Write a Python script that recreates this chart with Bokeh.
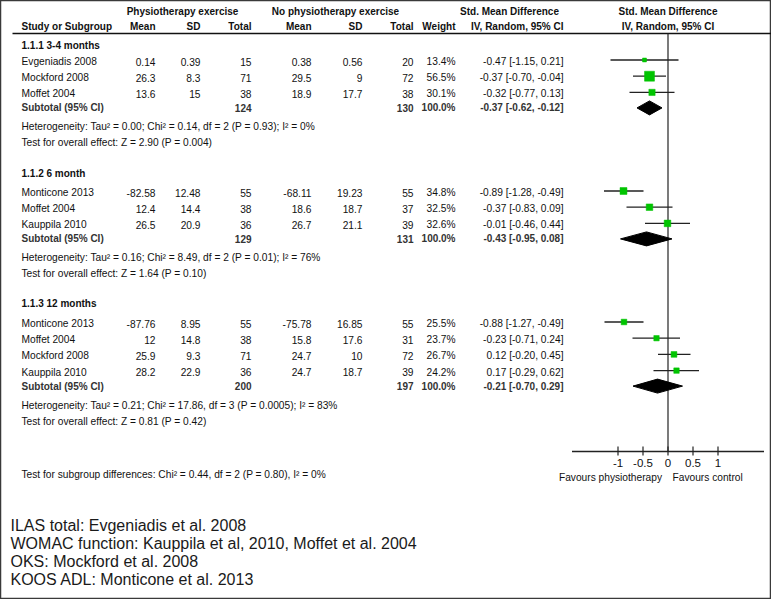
from bokeh.plotting import figure
from bokeh.models import Range1d, ColumnDataSource
from bokeh.core.properties import value
from bokeh.embed import file_html
from bokeh.resources import INLINE

# ---------------- data ----------------
group_labels = ["1.1.1 3-4 months", "1.1.2 6 month", "1.1.3 12 months"]
study_names = [["Evgeniadis 2008", "Mockford 2008", "Moffet 2004"],
               ["Monticone 2013", "Moffet 2004", "Kauppila 2010"],
               ["Monticone 2013", "Moffet 2004", "Mockford 2008", "Kauppila 2010"]]
mean_exp = [[0.14, 26.3, 13.6], [-82.58, 12.4, 26.5], [-87.76, 12, 25.9, 28.2]]
sd_exp = [[0.39, 8.3, 15], [12.48, 14.4, 20.9], [8.95, 14.8, 9.3, 22.9]]
n_exp = [[15, 71, 38], [55, 38, 36], [55, 38, 71, 36]]
mean_ctl = [[0.38, 29.5, 18.9], [-68.11, 18.6, 26.7], [-75.78, 15.8, 24.7, 24.7]]
sd_ctl = [[0.56, 9, 17.7], [19.23, 18.7, 21.1], [16.85, 17.6, 10, 18.7]]
n_ctl = [[20, 72, 38], [55, 37, 39], [55, 31, 72, 39]]
weight = [[13.4, 56.5, 30.1], [34.8, 32.5, 32.6], [25.5, 23.7, 26.7, 24.2]]
smd = [[-0.47, -0.37, -0.32], [-0.89, -0.37, -0.01], [-0.88, -0.23, 0.12, 0.17]]
ci_low = [[-1.15, -0.70, -0.77], [-1.28, -0.83, -0.46], [-1.27, -0.71, -0.20, -0.29]]
ci_high = [[0.21, -0.04, 0.13], [-0.49, 0.09, 0.44], [-0.49, 0.24, 0.45, 0.62]]
sub_n_exp = [124, 129, 200]
sub_n_ctl = [130, 131, 197]
sub_weight = [100.0, 100.0, 100.0]
sub_smd = [-0.37, -0.43, -0.21]
sub_low = [-0.62, -0.95, -0.70]
sub_high = [-0.12, 0.08, 0.29]
heterogeneity = ["Heterogeneity: Tau\u00b2 = 0.00; Chi\u00b2 = 0.14, df = 2 (P = 0.93); I\u00b2 = 0%",
                 "Heterogeneity: Tau\u00b2 = 0.16; Chi\u00b2 = 8.49, df = 2 (P = 0.01); I\u00b2 = 76%",
                 "Heterogeneity: Tau\u00b2 = 0.21; Chi\u00b2 = 17.86, df = 3 (P = 0.0005); I\u00b2 = 83%"]
overall_effect = ["Test for overall effect: Z = 2.90 (P = 0.004)",
                  "Test for overall effect: Z = 1.64 (P = 0.10)",
                  "Test for overall effect: Z = 0.81 (P = 0.42)"]
subgroup_test = "Test for subgroup differences: Chi\u00b2 = 0.44, df = 2 (P = 0.80), I\u00b2 = 0%"
notes = ["ILAS total: Evgeniadis et al. 2008",
         "WOMAC function: Kauppila et al, 2010, Moffet et al. 2004",
         "OKS: Mockford et al. 2008",
         "KOOS ADL: Monticone et al. 2013"]
axis_ticks = [-1, -0.5, 0, 0.5, 1]
axis_tick_labels = ["-1", "-0.5", "0", "0.5", "1"]
favours_labels = ["Favours physiotherapy", "Favours control"]
header_groups = ["Physiotherapy exercise", "No physiotherapy exercise", "Std. Mean Difference", "Std. Mean Difference"]
header_cols = ["Study or Subgroup", "Mean", "SD", "Total", "Mean", "SD", "Total", "Weight",
               "IV, Random, 95% CI", "IV, Random, 95% CI"]

# ---------------- layout (pixels of the picture) ----------------
W, H = 771, 599
ZERO_X, PX_PER_UNIT = 667.5, 50.0
FONT = "Liberation Sans"
REG = "10.2px"
BOLD = "10px"
INK = "#111111"
LEFT = 21
COLS = [155, 200, 251, 311, 362, 413, 455, 563]
HEAD_X = [182, 335, 509, ZERO_X]
GROUP_Y = [45, 173, 303]
FIRST_Y = [61, 192, 323]
STEP = 16.2
AXIS_Y = 451
AXIS_HALF = 1.92

p = figure(width=W, height=H, output_backend="svg", toolbar_location=None,
           x_range=Range1d(0, W), y_range=Range1d(H, 0),
           x_axis_location=None, y_axis_location=None, min_border=0,
           background_fill_color="white", border_fill_color="white",
           outline_line_color="#3a3a3a", outline_line_width=1.5)
p.grid.visible = False
p.extra_x_ranges = {"smd": Range1d((0 - ZERO_X) / PX_PER_UNIT, (W - ZERO_X) / PX_PER_UNIT)}

texts = {"reg": dict(x=[], y=[], t=[], a=[]), "bold": dict(x=[], y=[], t=[], a=[]),
         "sub": dict(x=[], y=[], t=[], a=[])}


def put(kind, x, y, t, a="left"):
    d = texts[kind]
    d["x"].append(x); d["y"].append(y); d["t"].append(t); d["a"].append(a)


# headers
for hx, t in zip(HEAD_X, header_groups):
    put("bold", hx, 11, t, "center")
put("bold", LEFT, 26, header_cols[0])
for cx, t in zip(COLS[:7], header_cols[1:8]):
    put("bold", cx, 26, t, "right")
put("bold", COLS[7], 26, header_cols[8], "right")
put("bold", ZERO_X, 26, header_cols[9], "center")

study_rows = dict(y=[], est=[], lo=[], hi=[], size=[])
dia = dict(xs=[], ys=[])
fmt = lambda v: "{:g}".format(v)
ci_fmt = lambda e, l, h: "{:.2f} [{:.2f}, {:.2f}]".format(e, l, h)

for g in range(len(group_labels)):
    put("bold", LEFT, GROUP_Y[g], group_labels[g])
    y = FIRST_Y[g]
    for i, name in enumerate(study_names[g]):
        y = FIRST_Y[g] + i * STEP
        put("reg", LEFT, y, name)
        vals = [fmt(mean_exp[g][i]), fmt(sd_exp[g][i]), str(n_exp[g][i]),
                fmt(mean_ctl[g][i]), fmt(sd_ctl[g][i]), str(n_ctl[g][i]),
                "{:.1f}%".format(weight[g][i]), ci_fmt(smd[g][i], ci_low[g][i], ci_high[g][i])]
        for cx, t in zip(COLS, vals):
            put("reg", cx, y, t, "right")
        study_rows["y"].append(y - 1.5)
        study_rows["est"].append(smd[g][i])
        study_rows["lo"].append(ci_low[g][i])
        study_rows["hi"].append(ci_high[g][i])
        study_rows["size"].append(2.1 + 0.139 * weight[g][i])
    ys = y + 14
    put("sub", LEFT, ys, "Subtotal (95% CI)")
    put("sub", COLS[2], ys, str(sub_n_exp[g]), "right")
    put("sub", COLS[5], ys, str(sub_n_ctl[g]), "right")
    put("sub", COLS[6], ys, "{:.1f}%".format(sub_weight[g]), "right")
    put("sub", COLS[7], ys, ci_fmt(sub_smd[g], sub_low[g], sub_high[g]), "right")
    dia["xs"].append([sub_low[g], sub_smd[g], sub_high[g], sub_smd[g]])
    dia["ys"].append([ys, ys - 7, ys, ys + 7])
    put("reg", LEFT, ys + 19, heterogeneity[g])
    put("reg", LEFT, ys + 35, overall_effect[g])

put("reg", LEFT, 474, subgroup_test)

styles = {"reg": ("normal", REG, INK), "bold": ("bold", BOLD, INK), "sub": ("bold", BOLD, "#333333")}
for kind, d in texts.items():
    st, sz, col = styles[kind]
    src = ColumnDataSource(dict(x=d["x"], y=d["y"], t=d["t"], a=d["a"]))
    p.text(x="x", y="y", text="t", text_align="a", source=src, text_baseline="middle",
           text_font=value(FONT), text_font_style=st, text_font_size=sz, text_color=col)

# notes
note_src = ColumnDataSource(dict(x=[10] * len(notes), y=[525 + 18 * i for i in range(len(notes))], t=notes))
p.text(x="x", y="y", text="t", source=note_src, text_baseline="middle",
       text_font=value(FONT), text_font_size="16px", text_color="#1a1a1a")

# header underline
p.segment(x0=[12], x1=[773], y0=[33], y1=[33], line_color="#111111", line_width=1.5)

# forest plot
p.segment(x0=[0], x1=[0], y0=[33], y1=[AXIS_Y], line_color="#222222", line_width=1.2, x_range_name="smd")
src = ColumnDataSource(study_rows)
p.segment(x0="lo", x1="hi", y0="y", y1="y", source=src, line_color="#222222", line_width=1.3,
          x_range_name="smd")
p.scatter(x="est", y="y", size="size", marker="square", source=src, fill_color="#00c400",
          line_color="#00c400", line_width=0.5, x_range_name="smd")
p.patches(xs="xs", ys="ys", source=ColumnDataSource(dia), fill_color="black", line_color="black",
          x_range_name="smd")

# axis of the forest plot
p.segment(x0=[-AXIS_HALF], x1=[AXIS_HALF], y0=[AXIS_Y], y1=[AXIS_Y], line_color="#222222",
          line_width=1.3, x_range_name="smd")
p.segment(x0=axis_ticks, x1=axis_ticks, y0=[AXIS_Y - 5] * len(axis_ticks),
          y1=[AXIS_Y + 4] * len(axis_ticks), line_color="#222222", line_width=1.2, x_range_name="smd")
p.text(x=axis_ticks, y=[AXIS_Y + 11] * len(axis_ticks), text=axis_tick_labels, text_align="center",
       text_baseline="middle", text_font=value(FONT), text_font_size="11.5px", text_color=INK,
       x_range_name="smd")
p.text(x=[-0.12, 0.09], y=[AXIS_Y + 26] * 2, text=favours_labels, text_align=["right", "left"],
       text_baseline="middle", text_font=value(FONT), text_font_size="10.2px", text_color=INK,
       x_range_name="smd")

open("out.html", "w").write(file_html(p, INLINE, title="Forest plot"))
